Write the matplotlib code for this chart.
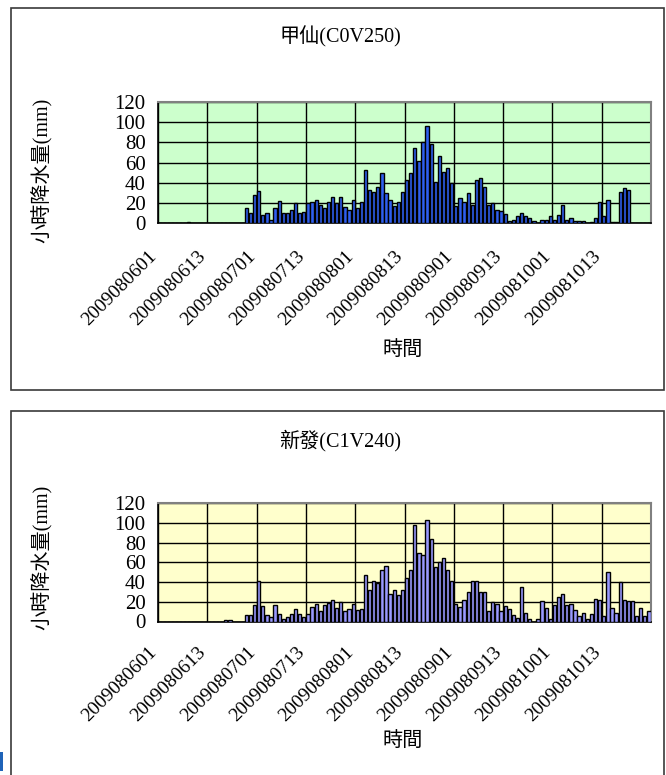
import matplotlib
matplotlib.use("Agg")
import matplotlib.pyplot as plt
import matplotlib.transforms as mtransforms
from matplotlib.patches import Rectangle
import numpy as np

# Hourly rainfall (mm) per record, two stations
station_a = "甲仙(C0V250)"
rain_a = [0, 0, 0, 0, 0, 0, 0, 1, 0, 0, 0, 0, 0, 0, 0, 0, 0, 0, 0, 0,
          0, 15, 10, 28, 32, 8, 10, 3, 15, 22, 10, 10, 13, 20, 10, 11, 20, 21, 23, 18,
          15, 21, 26, 20, 26, 16, 13, 23, 15, 21, 53, 33, 31, 36, 50, 30, 23, 17, 21, 31,
          43, 50, 74, 61, 80, 96, 78, 41, 66, 51, 55, 40, 17, 25, 21, 30, 18, 43, 45, 36,
          18, 20, 13, 12, 9, 2, 3, 7, 10, 7, 5, 2, 0, 3, 3, 7, 3, 8, 18, 3,
          5, 2, 2, 2, 0, 1, 5, 21, 7, 23, 1, 1, 31, 35, 33, 0, 0, 0, 0, 0]

station_b = "新發(C1V240)"
rain_b = [0, 0, 0, 0, 0, 0, 0, 0, 0, 0, 0, 0, 0, 0, 0, 0, 2, 2, 0, 0,
          0, 7, 7, 17, 41, 16, 7, 5, 17, 8, 3, 5, 8, 13, 8, 5, 8, 15, 18, 11,
          17, 19, 22, 14, 20, 11, 13, 18, 12, 13, 47, 32, 41, 39, 52, 56, 28, 32, 27, 32,
          44, 52, 98, 69, 67, 103, 84, 55, 60, 64, 52, 41, 18, 15, 22, 30, 41, 41, 30, 30,
          11, 20, 18, 11, 16, 13, 7, 4, 35, 9, 3, 0, 3, 21, 14, 3, 17, 25, 28, 17,
          18, 12, 6, 9, 3, 8, 23, 22, 6, 50, 14, 9, 40, 22, 21, 21, 6, 14, 6, 11]

date_labels = ["2009080601", "2009080613", "2009080701", "2009080713", "2009080801",
               "2009080813", "2009080901", "2009080913", "2009081001", "2009081013"]
y_ticks = [0, 20, 40, 60, 80, 100, 120]
y_label = "小時降水量(mm)"
x_label = "時間"

FONT = ["Liberation Serif", "Noto Sans CJK TC"]
W, H = 666, 775
fig = plt.figure(figsize=(W / 100, H / 100), dpi=100)
fig.patch.set_facecolor("white")


def fx(px):
    return px / W


def fy(py):
    return 1 - py / H


def add_frame(l, t, r, b):
    fig.patches.append(Rectangle((fx(l), fy(b)), fx(r) - fx(l), fy(t) - fy(b),
                                 transform=fig.transFigure, fill=False,
                                 edgecolor="#3a3a3a", linewidth=1.2))


def panel(rect, vals, face, bg, title, title_y, ylab_y, xlab_y, label_drop):
    l, t, r, b = rect
    ax = fig.add_axes([fx(l), fy(b), fx(r) - fx(l), fy(t) - fy(b)])
    ax.set_facecolor(bg)
    x = np.arange(len(vals))
    ax.bar(x, vals, width=0.8, color=face, edgecolor="black", linewidth=1.0, zorder=3)
    ax.set_xlim(-0.5, len(vals) - 0.5)
    ax.set_ylim(0, 120)
    ax.set_yticks(y_ticks)
    ax.set_yticklabels([str(v) for v in y_ticks], family=FONT, fontsize=15)
    ax.set_xticks(np.arange(0, len(vals), 12) - 0.5)
    ax.set_xticklabels([])
    ax.grid(True, color="black", linewidth=1.0, zorder=1)
    ax.tick_params(axis="x", length=0)
    ax.tick_params(axis="y", length=0, pad=9)
    for side in ("top", "right"):
        ax.spines[side].set_color("#808080")
        ax.spines[side].set_linewidth(1.5)
    for side in ("left", "bottom"):
        ax.spines[side].set_color("black")
        ax.spines[side].set_linewidth(1.2)

    off = mtransforms.ScaledTranslation(-4 / 100, -label_drop / 100, fig.dpi_scale_trans)
    for k, lab in enumerate(date_labels):
        ax.text(12 * k - 0.5, 0, lab, transform=ax.get_xaxis_transform() + off,
                rotation=45, rotation_mode="anchor", ha="right", va="center",
                family=FONT, fontsize=14)

    fig.text(fx(340), fy(title_y), title, ha="center", va="center",
             family=FONT, fontsize=14.5)
    fig.text(fx(42), fy(ylab_y), y_label, ha="center", va="center", rotation=90,
             family=FONT, fontsize=14.5)
    fig.text(fx(403), fy(xlab_y), x_label, ha="center", va="center",
             family=FONT, fontsize=14.5)
    return ax


add_frame(11, 8, 664, 390)
add_frame(11, 411, 664, 790)

panel((158, 102, 651, 223), rain_a, "#2F5FF0", "#CCFFCC", station_a, 37, 170, 350, 31)
panel((158, 503, 651, 621.5), rain_b, "#9999FF", "#FFFFCC", station_b, 441, 557, 741, 28)

fig.patches.append(Rectangle((fx(0), fy(771)), fx(3), fy(752) - fy(771),
                             transform=fig.transFigure, color="#1f63b8", linewidth=0))

fig.savefig("out.png", dpi=100)
